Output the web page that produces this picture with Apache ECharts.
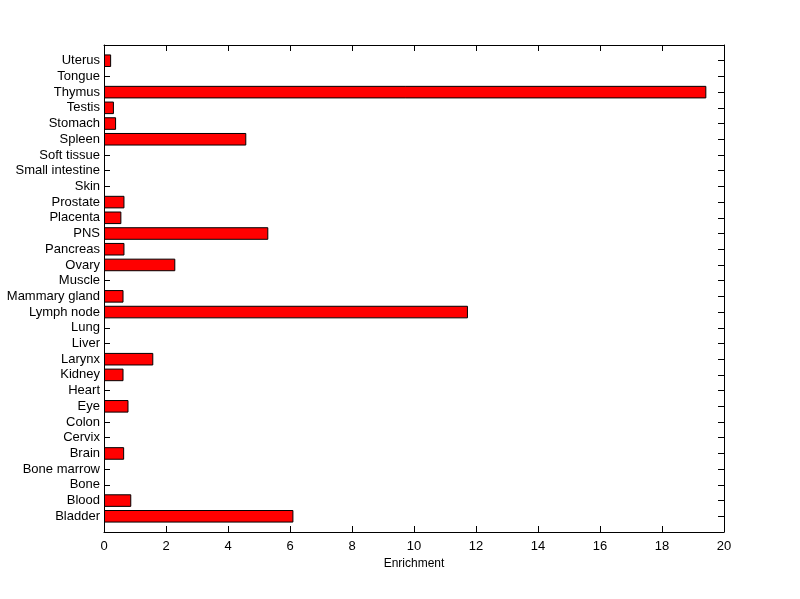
<!DOCTYPE html>
<html>
<head>
<meta charset="utf-8">
<script src="https://cdn.jsdelivr.net/npm/echarts@6/dist/echarts.min.js"></script>
<style>html,body{margin:0;padding:0;background:#fff;}#c{width:800px;height:599px;}</style>
</head>
<body>
<div id="c"></div>
<script>
// Categories, bottom to top
var categories = ['Bladder','Blood','Bone','Bone marrow','Brain','Cervix','Colon','Eye','Heart','Kidney','Larynx','Liver','Lung','Lymph node','Mammary gland','Muscle','Ovary','Pancreas','PNS','Placenta','Prostate','Skin','Small intestine','Soft tissue','Spleen','Stomach','Testis','Thymus','Tongue','Uterus'];
var enrichment = [6.11, 0.88, 0, 0, 0.65, 0, 0, 0.79, 0, 0.63, 1.59, 0, 0, 11.74, 0.63, 0, 2.30, 0.66, 5.30, 0.56, 0.66, 0, 0, 0, 4.59, 0.39, 0.32, 19.43, 0, 0.23];
var xTicks = [0, 2, 4, 6, 8, 10, 12, 14, 16, 18, 20];

// pad with blank slots at both ends so the axis runs from 0 to n+1
var axisCats = [''].concat(categories).concat(['']);
var barData = [null].concat(enrichment.map(function(v){ return v > 0 ? v : null; })).concat([null]);

var font = 'Liberation Sans, Arial, sans-serif';
var line = { show: true, onZero: false, lineStyle: { color: '#000', width: 1 } };
var tick = { show: true, inside: true, length: 6, interval: 0, lineStyle: { color: '#000', width: 1 } };
var chart = echarts.init(document.getElementById('c'));
chart.setOption({
  animation: false,
  backgroundColor: '#fff',
  grid: { left: 104, right: 76, top: 45, bottom: 67, containLabel: false },
  xAxis: [{
    type: 'value', position: 'bottom', min: xTicks[0], max: xTicks[xTicks.length-1], interval: 2,
    name: 'Enrichment', nameLocation: 'middle', nameGap: 25,
    nameTextStyle: { color: '#000', fontFamily: font, fontSize: 12 },
    axisLine: line,
    axisTick: tick,
    axisLabel: { color: '#000', fontFamily: font, fontSize: 13, margin: 8 },
    splitLine: { show: false }
  }, {
    type: 'value', position: 'top', min: xTicks[0], max: xTicks[xTicks.length-1], interval: 2,
    axisLine: line,
    axisTick: tick,
    axisLabel: { show: false },
    splitLine: { show: false }
  }],
  yAxis: [{
    type: 'category', position: 'left', data: axisCats, boundaryGap: false,
    axisLine: line,
    axisTick: tick,
    axisLabel: { color: '#000', fontFamily: font, fontSize: 13, margin: 4, interval: 0 },
    splitLine: { show: false }
  }, {
    type: 'category', position: 'right', data: axisCats, boundaryGap: false,
    axisLine: line,
    axisTick: tick,
    axisLabel: { show: false },
    splitLine: { show: false }
  }],
  series: [{
    type: 'bar', xAxisIndex: 0, yAxisIndex: 0,
    data: barData,
    barWidth: '80%',
    itemStyle: { color: '#ff0000', borderColor: '#000', borderWidth: 1 }
  }]
});
</script>
</body>
</html>
